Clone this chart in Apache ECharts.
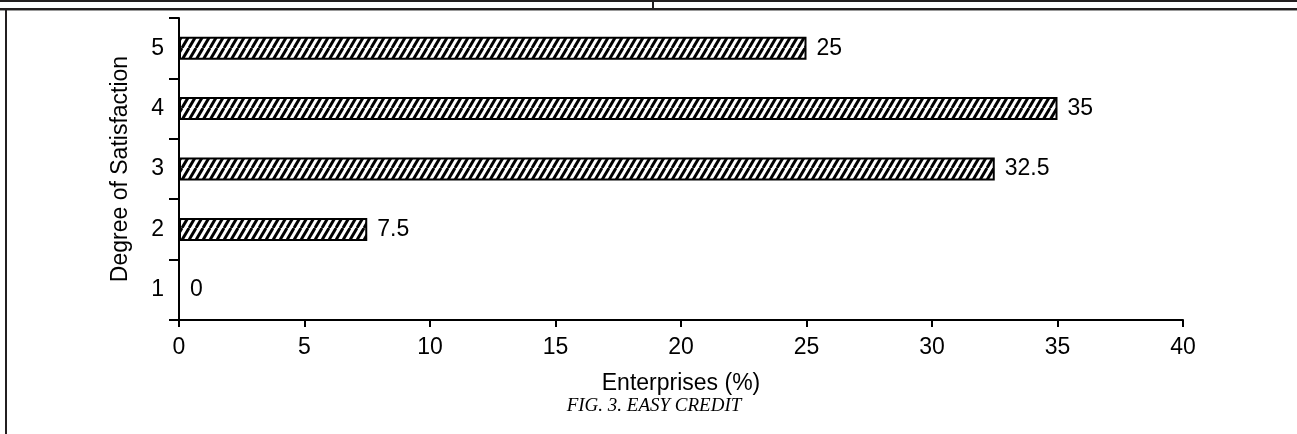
<!DOCTYPE html>
<html>
<head>
<meta charset="utf-8">
<style>
html,body{margin:0;padding:0;background:#fff;}
#chart{width:1297px;height:434px;}
</style>
<script src="https://cdn.jsdelivr.net/npm/echarts@6/dist/echarts.min.js"></script>
</head>
<body>
<div id="chart"></div>
<script>
const categories = ['1', '2', '3', '4', '5'];
const values = [0, 7.5, 32.5, 35, 25];
const xTicks = [0, 5, 10, 15, 20, 25, 30, 35, 40];
const yAxisName = 'Degree of Satisfaction';
const xAxisName = 'Enterprises (%)';
const caption = 'FIG. 3. EASY CREDIT';

// hatch pattern
function makeHatch() {
  const w = 7, h = 12;
  const c = document.createElement('canvas');
  c.width = w; c.height = h;
  const g = c.getContext('2d');
  g.fillStyle = '#fff';
  g.fillRect(0, 0, w, h);
  g.strokeStyle = '#000';
  g.lineWidth = 2.9;
  for (let k = -1; k <= 1; k++) {
    g.beginPath();
    g.moveTo(k * w, h);
    g.lineTo(k * w + w, 0);
    g.stroke();
  }
  return c;
}

const chart = echarts.init(document.getElementById('chart'), null, {renderer: 'canvas'});
const font = '"Liberation Sans", Arial, sans-serif';
const fs = 23;
chart.setOption({
  animation: false,
  backgroundColor: '#fff',
  grid: {left: 179, right: 114, top: 18, bottom: 114},
  xAxis: {
    type: 'value',
    min: xTicks[0],
    max: xTicks[xTicks.length - 1],
    interval: 5,
    name: xAxisName,
    nameLocation: 'middle',
    nameGap: 52,
    nameTextStyle: {color: '#000', fontSize: fs, fontFamily: font},
    axisLine: {show: true, lineStyle: {color: '#000', width: 2}},
    axisTick: {show: true, length: 7, lineStyle: {color: '#000', width: 2}},
    axisLabel: {color: '#000', fontSize: fs, fontFamily: font, margin: 16},
    splitLine: {show: false}
  },
  yAxis: {
    type: 'category',
    data: categories,
    name: yAxisName,
    nameLocation: 'middle',
    nameGap: 47,
    nameTextStyle: {color: '#000', fontSize: fs, fontFamily: font},
    axisLine: {show: true, lineStyle: {color: '#000', width: 2}},
    axisTick: {show: true, length: 10, alignWithLabel: false, lineStyle: {color: '#000', width: 2}},
    axisLabel: {color: '#000', fontSize: fs, fontFamily: font, margin: 15}
  },
  series: [{
    type: 'bar',
    data: values,
    barWidth: 23,
    itemStyle: {
      color: {image: makeHatch(), repeat: 'repeat'},
      borderColor: '#000',
      borderWidth: 2
    },
    label: {
      show: true,
      position: 'right',
      distance: 10,
      color: '#000',
      fontSize: fs,
      fontFamily: font
    }
  }],
  graphic: [
    {type: 'rect', shape: {x: 0, y: 0, width: 1297, height: 2}, style: {fill: '#231f20'}, silent: true},
    {type: 'rect', shape: {x: 0, y: 8, width: 1297, height: 2}, style: {fill: '#231f20'}, silent: true},
    {type: 'rect', shape: {x: 0, y: 10, width: 1297, height: 1}, style: {fill: '#999'}, silent: true},
    {type: 'rect', shape: {x: 652, y: 0, width: 2, height: 9}, style: {fill: '#231f20'}, silent: true},
    {type: 'rect', shape: {x: 5, y: 9, width: 2, height: 425}, style: {fill: '#231f20'}, silent: true},
    {type: 'text', x: 0, y: 0, style: {
      text: caption, x: 654, y: 406, align: 'center', verticalAlign: 'middle',
      fill: '#000', font: 'italic 19px "Liberation Serif", "Times New Roman", serif'
    }, silent: true}
  ]
});
</script>
</body>
</html>
